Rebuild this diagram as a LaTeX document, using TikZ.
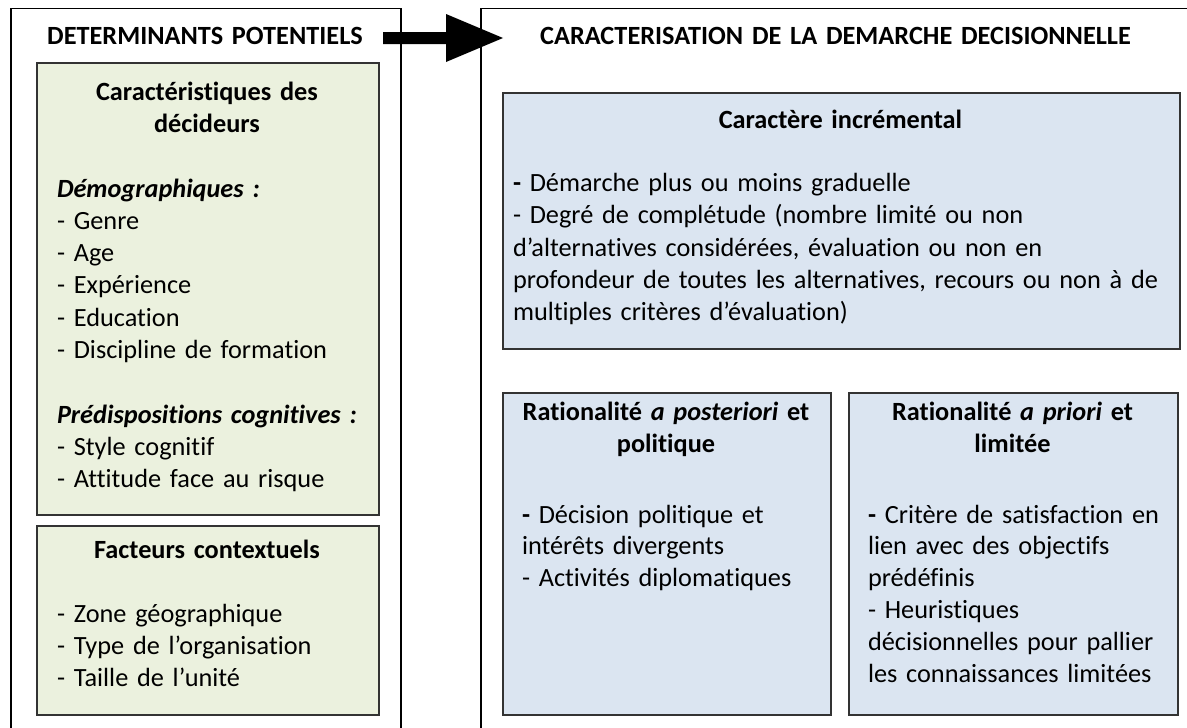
\documentclass[tikz,border=0pt]{standalone}
\usepackage{fontspec}
\setmainfont[Ligatures=NoCommon]{Carlito}
\definecolor{greenfill}{RGB}{235,241,222}
\definecolor{bluefill}{RGB}{219,229,241}
\newcommand\myfs{\fontsize{26.3}{32.3}\selectfont}
\newcommand\myfslow{\fontsize{26.3}{31.8}\selectfont}
\begin{document}
\begin{tikzpicture}[x=1pt,y=-1pt,
  outerbox/.style={draw=black, line width=1.5pt, anchor=north west, inner sep=0pt},
  greenbox/.style={draw=black!80, line width=1.8pt, fill=greenfill, anchor=north west, inner sep=0pt},
  bluebox/.style={draw=black!80, line width=1.8pt, fill=bluefill, anchor=north west, inner sep=0pt},
  txt/.style={inner sep=0pt, outer sep=0pt, font=\myfs, text=black},
  listtext/.style={txt, text width=#1, align=left, anchor=base west},
  titletext/.style={txt, text width=#1, align=center, anchor=base, font=\myfs\bfseries},
  bigarrow/.style={fill=black}
]
\useasboundingbox (0,0) rectangle (1187,728);

% outer frames (bottom and right sides run off the picture)
\node[outerbox, minimum width=390pt, minimum height=740pt] (left) at (10,7.5) {};
\node[outerbox, minimum width=712pt, minimum height=740pt] (right) at (480,7.5) {};

% arrow
\coordinate (a1) at (383,32);
\coordinate (a2) at (446,32);
\coordinate (a3) at (446,14);
\coordinate (a4) at (503,38);
\coordinate (a5) at (446,62);
\coordinate (a6) at (446,44);
\coordinate (a7) at (383,44);
\fill[bigarrow] (a1) -- (a2) -- (a3) -- (a4) -- (a5) -- (a6) -- (a7) -- cycle;

% titles
\node[titletext=380pt] (lefttitle) at (205,44) {DETERMINANTS POTENTIELS};
\node[titletext=700pt] (righttitle) at (835.5,44) {CARACTERISATION DE LA DEMARCHE DECISIONNELLE};

% green boxes
\node[greenbox, minimum width=342pt, minimum height=452pt] (g1) at (36,62) {};
\node[greenbox, minimum width=342pt, minimum height=189pt] (g2) at (36,525) {};

\node[titletext=330pt] (g1title) at (207,100) {Caractéristiques des\\décideurs};
\node[listtext=320pt] (g1list) at (57,197) {%
\textbf{\textit{Démographiques :}}\\
- Genre\\
- Age\\
- Expérience\\
- Education\\
- Discipline de formation\\
~\\
\textbf{\textit{Prédispositions cognitives :}}\\
- Style cognitif\\
- Attitude face au risque};

\node[titletext=330pt] (g2title) at (207,558) {Facteurs contextuels};
\node[listtext=320pt] (g2list) at (57,622) {%
- Zone géographique\\
- Type de l’organisation\\
- Taille de l’unité};

% blue boxes
\node[bluebox, minimum width=677pt, minimum height=256pt] (b1) at (502,92) {};
\node[bluebox, minimum width=328pt, minimum height=322pt] (b2) at (502,392) {};
\node[bluebox, minimum width=329pt, minimum height=322pt] (b3) at (848,392) {};

\node[titletext=660pt] (b1title) at (840.5,128) {Caractère incrémental};
\node[listtext=660pt] (b1list) at (513,191.5) {%
\textbf{-} Démarche plus ou moins graduelle\\
- Degré de complétude (nombre limité ou non\\
d’alternatives considérées, évaluation ou non en\\
profondeur de toutes les alternatives, recours ou non à de\\
multiples critères d’évaluation)};

\node[titletext=320pt] (b2title) at (666,420) {Rationalité \textit{a posteriori} et\\politique};
\node[listtext=300pt, font=\myfslow] (b2list) at (522,523) {%
\textbf{-} Décision politique et\\
intérêts divergents\\
- Activités diplomatiques};

\node[titletext=320pt] (b3title) at (1012.5,420) {Rationalité \textit{a priori} et\\limitée};
\node[listtext=305pt, font=\myfslow] (b3list) at (868,523) {%
\textbf{-} Critère de satisfaction en\\
lien avec des objectifs\\
prédéfinis\\
- Heuristiques\\
décisionnelles pour pallier\\
les connaissances limitées};
\end{tikzpicture}
\end{document}
